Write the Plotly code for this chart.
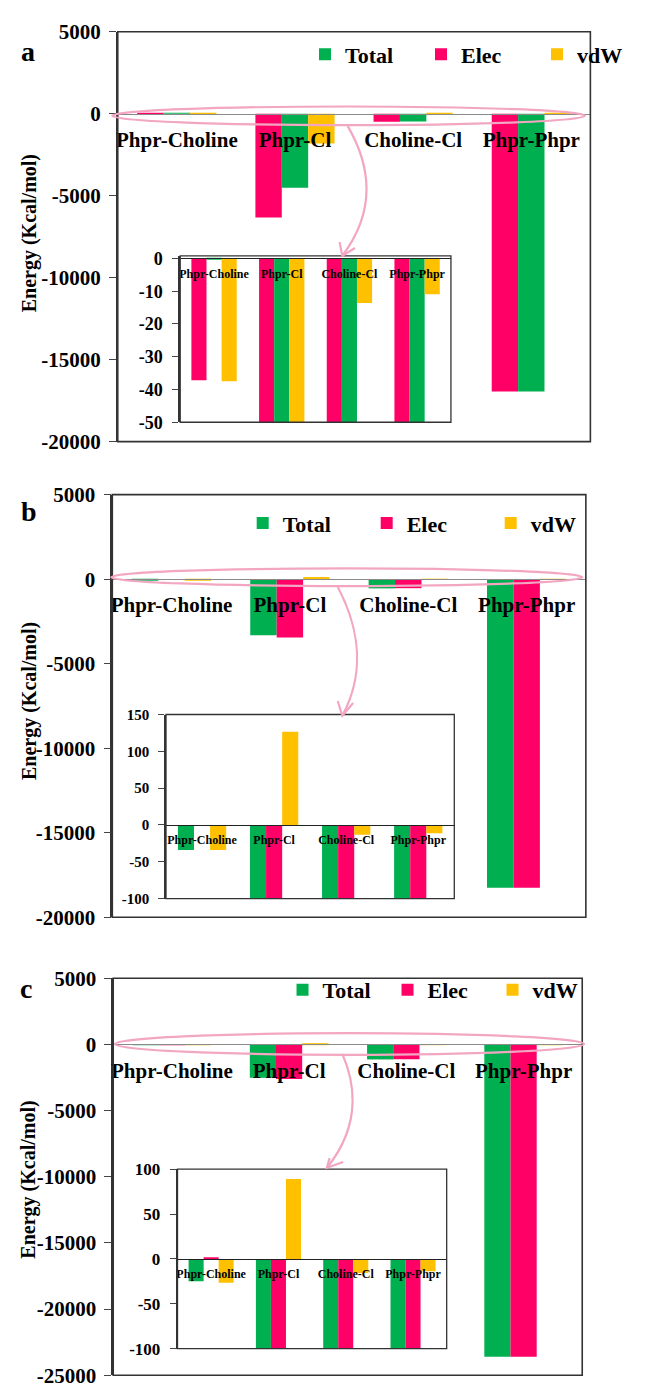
import plotly.graph_objects as go

# ---------------- data ----------------
categories = ["Phpr-Choline", "Phpr-Cl", "Choline-Cl", "Phpr-Phpr"]

# panel a (bars drawn pink, green, yellow)
a_elec = [-37.2, -6330, -485, -16950]
a_total = [-0.3, -4510, -470, -16940]
a_vdw = [-37.5, -1815, -13.6, -10.9]

# panel b (bars drawn green, pink, yellow)
b_total = [-34, -3324, -545, -18250]
b_elec = [0.0, -3450, -532, -18250]
b_vdw = [-34, 126.7, -13.3, -11.2]

# panel c (bars drawn green, pink, yellow)
c_total = [-24.8, -2530, -1140, -23600]
c_elec = [1.4, -2620, -1125, -23600]
c_vdw = [-26.6, 89, -15.7, -13.8]

main_ticks_ab = [5000, 0, -5000, -10000, -15000, -20000]
main_ticks_c = [5000, 0, -5000, -10000, -15000, -20000, -25000]
inset_ticks_a = [0, -10, -20, -30, -40, -50]
inset_ticks_b = [150, 100, 50, 0, -50, -100]
inset_ticks_c = [100, 50, 0, -50, -100]

Y_TITLE = "Energy (Kcal/mol)"

# ---------------- styling ----------------
W, H = 645, 1391
FONT = "Liberation Serif, Times New Roman, Times, serif"
GREEN = "#00B050"
PINK = "#FF0066"
YELLOW = "#FFC000"
RING = "#F2A6C2"


def fx(px):
    return px / W


def fy(py):
    return 1 - py / H


def bold(size):
    return dict(family=FONT, size=size, color="black", weight="bold")


PANELS = [
    dict(letter="a", letter_pos=(20, 32), title_pos=(21, 217),
         main=(119, 641, 12, 429), mrange=(-20000, 5000), mticks=main_ticks_ab,
         inset=(188, 487, 240, 409.3), irange=(-50, 0.8), iticks=inset_ticks_a, ifont=18,
         series=[("Elec", a_elec, PINK, 2), ("Total", a_total, GREEN, 1), ("vdW", a_vdw, YELLOW, 3)],
         legend_pos=(326, 35), entry=71, ring=(113, 635, 88, 107),
         arrow_pts=dict(x0=373, y0=108, c1x=390, c1y=135, c2x=412, c2y=185, x1=367, y1=240),
         head=((364, 226), (381, 232))),
    dict(letter="b", letter_pos=(21, 500), title_pos=(21, 693),
         main=(113, 636, 483, 913), mrange=(-20000, 5000), mticks=main_ticks_ab,
         inset=(172.3, 490.7, 706.7, 894), irange=(-100, 150), iticks=inset_ticks_b, ifont=15,
         series=[("Total", b_total, GREEN, 1), ("Elec", b_elec, PINK, 2), ("vdW", b_vdw, YELLOW, 3)],
         legend_pos=(257, 512), entry=79, ring=(112, 632, 558, 576),
         arrow_pts=dict(x0=362, y0=577, c1x=378, c1y=605, c2x=398, c2y=655, x1=367, y1=708),
         head=((362, 693), (379, 695))),
    dict(letter="c", letter_pos=(18, 986), title_pos=(21, 1180),
         main=(114, 632, 975, 1379), mrange=(-25000, 5000), mticks=main_ticks_c,
         inset=(185, 482.3, 1169.3, 1352), irange=(-100, 100), iticks=inset_ticks_c, ifont=17,
         series=[("Total", c_total, GREEN, 1), ("Elec", c_elec, PINK, 2), ("vdW", c_vdw, YELLOW, 3)],
         legend_pos=(301, 987), entry=60, ring=(116, 634, 1031, 1053),
         arrow_pts=dict(x0=367, y0=1052, c1x=378, c1y=1075, c2x=392, c2y=1120, x1=350, y1=1168),
         head=((353, 1158), (368, 1162))),
]

fig = go.Figure()
layout = dict(
    width=W, height=H, margin=dict(l=0, r=0, t=0, b=0),
    paper_bgcolor="white", plot_bgcolor="rgba(0,0,0,0)",
    barmode="group", bargap=0.33, bargroupgap=0,
    showlegend=True,
    font=dict(family=FONT, color="black"),
)
shapes = []
annotations = []


def ax_keys(n):
    return ("x" if n == 1 else f"x{n}", "y" if n == 1 else f"y{n}",
            "xaxis" if n == 1 else f"xaxis{n}", "yaxis" if n == 1 else f"yaxis{n}")


for i, p in enumerate(PANELS):
    legend_name = "legend" if i == 0 else f"legend{i + 1}"
    for j, (box, rng, ticks, is_main) in enumerate([
        (p["main"], p["mrange"], p["mticks"], True),
        (p["inset"], p["irange"], p["iticks"], False),
    ]):
        n = 2 * i + j + 1
        xr, yr, xk, yk = ax_keys(n)
        x0, x1, y0, y1 = box
        ymin, ymax = rng
        zero_px = y0 + (ymax - 0) / (ymax - ymin) * (y1 - y0)
        layout[xk] = dict(
            domain=[fx(x0), fx(x1)], anchor="free", position=fy(zero_px),
            showline=True, linecolor="#8a8a8a" if is_main else "#222222",
            linewidth=1.2, ticks="", showgrid=False, zeroline=False,
            tickfont=bold(21 if is_main else 12),
            ticklabelstandoff=7 if is_main else 4,
            fixedrange=True,
        )
        layout[yk] = dict(
            domain=[fy(y1), fy(y0)], anchor=xr, range=[ymin, ymax],
            tickvals=ticks, ticktext=[str(t) for t in ticks],
            ticks="outside", ticklen=7 if is_main else 6, tickcolor="#444444",
            showline=True, linecolor="#333333", linewidth=1.5,
            showgrid=False, zeroline=False,
            tickfont=bold(21 if is_main else p["ifont"]),
            ticklabelstandoff=4 if is_main else 6, fixedrange=True,
        )
        shapes.append(dict(type="rect", xref=f"{xr} domain", yref=f"{yr} domain",
                           x0=0, x1=1, y0=0, y1=1, layer="above",
                           line=dict(color="#333333", width=1.6 if is_main else 1.3)))
        for name, vals, color, rank in p["series"]:
            fig.add_trace(go.Bar(
                x=categories, y=vals, name=name, xaxis=xr, yaxis=yr,
                marker=dict(color=color, line=dict(width=0)),
                showlegend=is_main, legend=legend_name, legendrank=rank,
                hoverinfo="skip",
            ))
    lx, ly = p["legend_pos"]
    layout[legend_name] = dict(
        x=fx(lx), y=fy(ly), xanchor="left", yanchor="middle",
        orientation="h", bgcolor="rgba(0,0,0,0)", borderwidth=0,
        font=bold(22),
        entrywidth=p["entry"], entrywidthmode="pixels", itemwidth=30,
        traceorder="normal",
    )
    # y-axis title
    tx, ty = p["title_pos"]
    annotations.append(dict(text=Y_TITLE, x=fx(tx), y=fy(ty), xref="paper", yref="paper",
                            showarrow=False, textangle=-90, xanchor="center", yanchor="middle",
                            font=bold(20)))
    # panel letter
    annotations.append(dict(text=p["letter"], x=fx(p["letter_pos"][0]), y=fy(p["letter_pos"][1]),
                            xref="paper", yref="paper", showarrow=False, xanchor="center",
                            yanchor="middle", font=bold(28)))
    # pink ring around the zero line
    rx0, rx1, ry0, ry1 = p["ring"]
    shapes.append(dict(type="circle", xref="paper", yref="paper", x0=fx(rx0), x1=fx(rx1),
                       y0=fy(ry1), y1=fy(ry0), layer="above", line=dict(color=RING, width=2.2)))
    # curved arrow toward the inset
    ap = p["arrow_pts"]
    curve = (f"M {fx(ap['x0'])},{fy(ap['y0'])} "
             f"C {fx(ap['c1x'])},{fy(ap['c1y'])} {fx(ap['c2x'])},{fy(ap['c2y'])} "
             f"{fx(ap['x1'])},{fy(ap['y1'])}")
    shapes.append(dict(type="path", xref="paper", yref="paper", path=curve,
                       layer="above", line=dict(color=RING, width=2.2)))
    (h1x, h1y), (h2x, h2y) = p["head"]
    head_path = (f"M {fx(h1x)},{fy(h1y)} L {fx(ap['x1'])},{fy(ap['y1'])} "
                 f"L {fx(h2x)},{fy(h2y)}")
    shapes.append(dict(type="path", xref="paper", yref="paper", path=head_path,
                       layer="above", line=dict(color=RING, width=2.2)))

layout["shapes"] = shapes
layout["annotations"] = annotations
fig.update_layout(**layout)
fig.write_html("out.html")
